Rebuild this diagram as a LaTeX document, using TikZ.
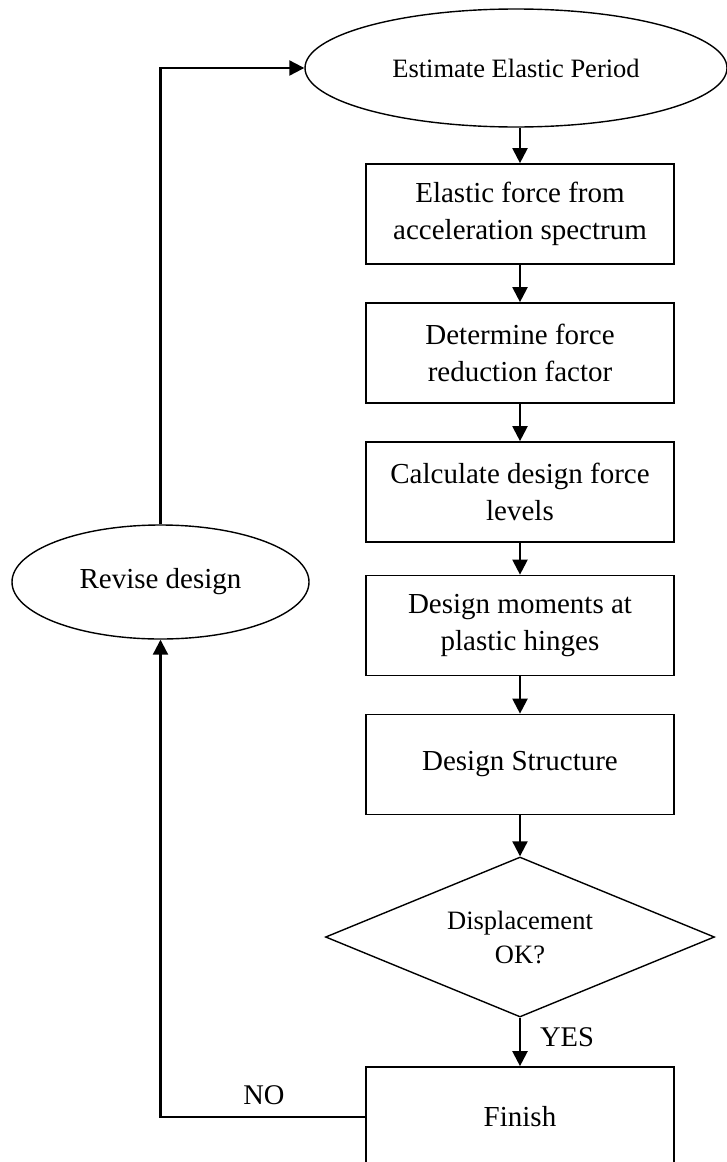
\documentclass[tikz,border=0pt]{standalone}
\usepackage{fontspec}
\setmainfont{Liberation Serif}
\usetikzlibrary{shapes.geometric,arrows.meta}
\begin{document}
\begin{tikzpicture}[x=1pt,y=-1pt,
  stepbox/.style={draw,line width=1.7pt,rectangle,minimum width=308pt,minimum height=100pt,inner sep=0pt,align=center,font=\fontsize{29}{37}\selectfont},
  ovalbox/.style={draw,line width=1.4pt,ellipse,inner sep=0pt,align=center},
  decide/.style={draw,line width=1.4pt,diamond,aspect=2.43,inner sep=0pt,minimum width=389pt,minimum height=160pt,align=center,font=\fontsize{26.5}{34}\selectfont},
  arr/.style={line width=2.2pt,-{Triangle[width=15pt,length=15pt]}},
  lbl/.style={inner sep=0pt,font=\fontsize{28.5}{34}\selectfont}]
\useasboundingbox (0,0) rectangle (727,1162);
\node[ovalbox,minimum width=422pt,minimum height=118pt,font=\fontsize{26.5}{34}\selectfont] (est) at (516,68) {Estimate Elastic Period};
\node[stepbox] (b1) at (520,214) {Elastic force from\\acceleration spectrum};
\node[stepbox] (b2) at (520,353) {Determine force\\reduction factor};
\node[stepbox] (b3) at (520,492) {Calculate design force\\levels};
\node[stepbox] (b4) at (520,625.5) {Design moments at\\plastic hinges};
\node[stepbox] (b5) at (520,764.5) {Design Structure};
\node[decide] (dia) at (520,937) {Displacement\\OK?};
\node[stepbox] (fin) at (520,1117) {Finish};
\node[ovalbox,minimum width=297pt,minimum height=114pt,font=\fontsize{29}{37}\selectfont] (rev) at (160.5,582) {Revise design};
\draw[arr] (b1.north |- est.south) -- (b1.north);
\draw[arr] (b1) -- (b2);
\draw[arr] (b2) -- (b3);
\draw[arr] (b3) -- (b4);
\draw[arr] (b4) -- (b5);
\draw[arr] (b5) -- (dia);
\draw[arr] (dia) -- (fin);
\node[lbl] (yes) at (567,1037) {YES};
\draw[arr] (fin.west) -| (rev.south);
\node[lbl] (no) at (264,1095) {NO};
\draw[arr] (rev.north) |- (est.west);
\end{tikzpicture}
\end{document}
